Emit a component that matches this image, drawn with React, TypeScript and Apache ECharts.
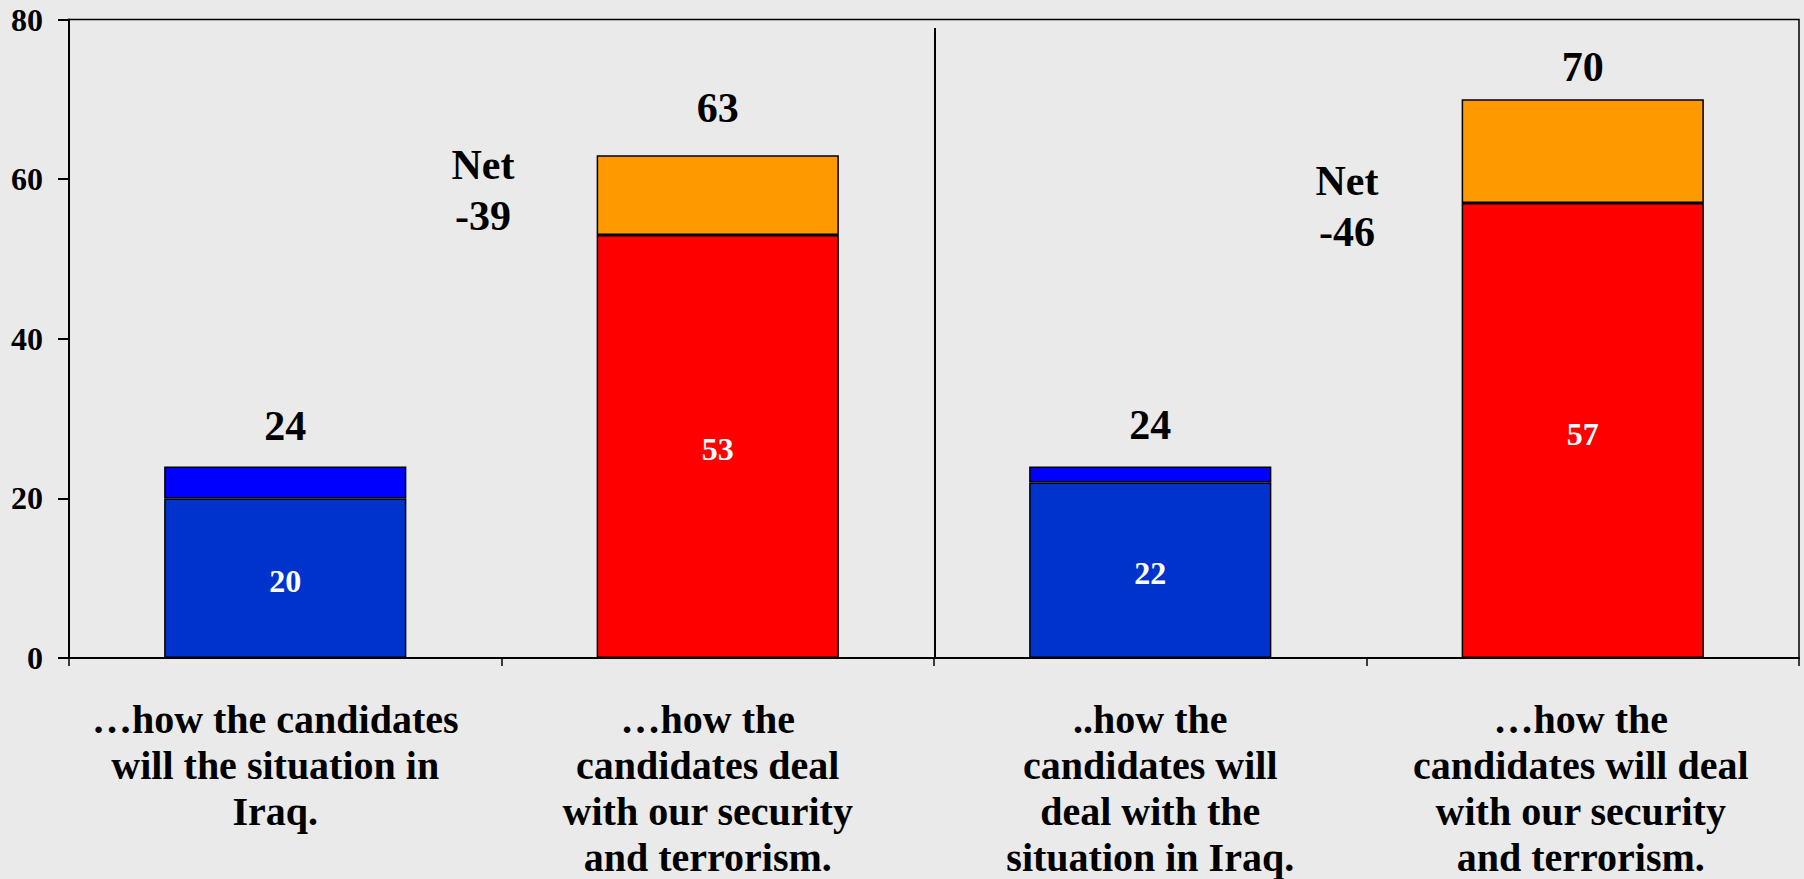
import React, { useEffect, useRef } from "react";
import * as echarts from "echarts";

const categories = [
  "…how the candidates\nwill the situation in\nIraq.",
  "…how the\ncandidates deal\nwith our security\nand terrorism.",
  "..how the\ncandidates will\ndeal with the\nsituation in Iraq.",
  "…how the\ncandidates will deal\nwith our security\nand terrorism.",
];
const baseValues = [20, 53, 22, 57];
const topValues = [4, 10, 2, 13];
const totals = [24, 63, 24, 70];
const netLabels = ["Net\n-39", "Net\n-46"];
const yTicks = [0, 20, 40, 60, 80];

const baseColors = ["#0033CC", "#FF0000", "#0033CC", "#FF0000"];
const topColors = ["#0000FF", "#FF9900", "#0000FF", "#FF9900"];
const totalLabelDistance = [19, 26, 20, 11];
const categoryLabelRightPad = [20, 20, 0, 4];

const FONT = "'Liberation Serif', 'Times New Roman', serif";

export default function App() {
  const ref = useRef<HTMLDivElement>(null);
  useEffect(() => {
    if (!ref.current) return;
    const chart = echarts.init(ref.current, null, { renderer: "svg" });
    chart.setOption({
      animation: false,
      backgroundColor: "#EAEAEA",
      textStyle: { fontFamily: FONT },
      grid: {
        left: 69,
        right: 5,
        top: 19.5,
        bottom: 221,
        containLabel: false,
        outerBoundsMode: "none",
        show: true,
        borderColor: "#000",
        borderWidth: 1.5,
        backgroundColor: "transparent",
      },
      xAxis: {
        type: "category",
        data: categories.map((c, i) => ({
          value: c,
          textStyle: { padding: [0, categoryLabelRightPad[i], 0, 0] },
        })),
        boundaryGap: true,
        axisLine: { lineStyle: { color: "#000", width: 2 } },
        axisTick: { show: true, length: 8, lineStyle: { color: "#000", width: 1.5 } },
        axisLabel: {
          interval: 0,
          margin: 38,
          color: "#000",
          fontFamily: FONT,
          fontWeight: "bold",
          fontSize: 40,
          lineHeight: 46,
          align: "center",
        },
      },
      yAxis: {
        type: "value",
        min: yTicks[0],
        max: yTicks[yTicks.length - 1],
        interval: yTicks[1] - yTicks[0],
        splitLine: { show: false },
        axisLine: { show: true, lineStyle: { color: "#000", width: 2 } },
        axisTick: { show: true, length: 11, lineStyle: { color: "#000", width: 2 } },
        axisLabel: {
          margin: 26,
          color: "#000",
          fontFamily: FONT,
          fontWeight: "bold",
          fontSize: 32,
        },
      },
      series: [
        {
          type: "bar",
          stack: "s",
          barWidth: "56%",
          data: baseValues.map((v, i) => ({ value: v, itemStyle: { color: baseColors[i] } })),
          itemStyle: { borderColor: "#000", borderWidth: 1.5 },
          label: {
            show: true,
            position: "inside",
            offset: [0, 3],
            color: "#fff",
            fontFamily: FONT,
            fontWeight: "bold",
            fontSize: 32,
          },
        },
        {
          type: "bar",
          stack: "s",
          barWidth: "56%",
          data: topValues.map((v, i) => ({
            value: v,
            itemStyle: { color: topColors[i] },
            label: { distance: totalLabelDistance[i] },
          })),
          itemStyle: { borderColor: "#000", borderWidth: 1.5 },
          label: {
            show: true,
            position: "top",
            formatter: (p: any) => String(totals[p.dataIndex]),
            color: "#000",
            fontFamily: FONT,
            fontWeight: "bold",
            fontSize: 42,
          },
        },
      ],
      graphic: [
        {
          type: "line",
          shape: { x1: 935, y1: 28, x2: 935, y2: 658 },
          style: { stroke: "#000", lineWidth: 2 },
          z: 10,
        },
        {
          type: "text",
          x: 483,
          y: 139,
          style: {
            text: netLabels[0],
            font: `bold 42px ${FONT}`,
            fill: "#000",
            align: "center",
            verticalAlign: "top",
            lineHeight: 51,
          },
        },
        {
          type: "text",
          x: 1347,
          y: 155,
          style: {
            text: netLabels[1],
            font: `bold 42px ${FONT}`,
            fill: "#000",
            align: "center",
            verticalAlign: "top",
            lineHeight: 51,
          },
        },
      ],
    });
    return () => chart.dispose();
  }, []);
  return (
    <div
      ref={ref}
      style={{ position: "fixed", left: 0, top: 0, width: 1804, height: 879 }}
    />
  );
}
